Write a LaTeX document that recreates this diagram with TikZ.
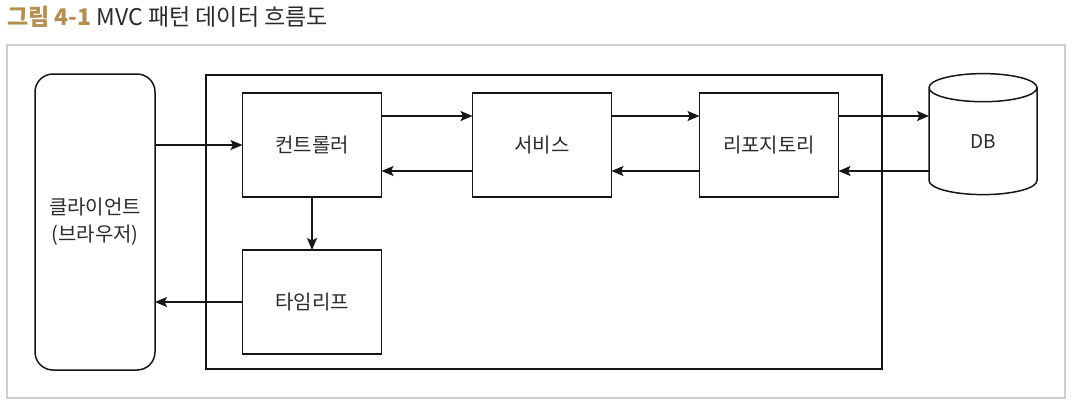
\documentclass[tikz,border=0pt]{standalone}
\usepackage{fontspec}
\setmainfont{Noto Sans CJK KR}
\usetikzlibrary{positioning,arrows.meta,shapes.geometric}
\definecolor{titlegold}{HTML}{B58E52}
\definecolor{framegray}{HTML}{CFCFCF}
\definecolor{ink}{HTML}{161616}
\definecolor{label}{HTML}{2B2B2B}

\tikzset{
  box/.style={draw=ink, line width=1.5pt, minimum width=139pt, minimum height=104pt,
    inner sep=0pt, outer sep=0pt, text=label, font=\fontsize{20}{27}\selectfont},
  arr/.style={draw=ink, line width=1.6pt, -{Stealth[length=12pt,width=10pt,inset=2.5pt]}}
}

\begin{document}
\begin{tikzpicture}[x=1pt,y=-1pt]
\useasboundingbox (0,0) rectangle (1080,408);
\draw[framegray, line width=1.5pt] (7,45) rectangle (1065,398);

\node[anchor=base west, inner sep=0pt, text=label] (title) at (7,25)
  {\fontsize{23}{25}\selectfont\textcolor{titlegold}{\bfseries 그림 4-1} MVC 패턴 데이터 흐름도};

\node[box, rounded corners=18pt, minimum width=120pt, minimum height=296pt, align=center] (client) at (95,222) {클라이언트\\(브라우저)};
\node[draw=ink, line width=1.5pt, minimum width=676pt, minimum height=294pt, inner sep=0pt] (app) at (544,222) {};

\node[box] (ctrl) at (312,145) {컨트롤러};
\node[box, right=91pt of ctrl] (svc) {서비스};
\node[box, right=88pt of svc] (repo) {리포지토리};
\node[box, below=53pt of ctrl] (tmpl) {타임리프};
\node[box, cylinder, shape border rotate=90, aspect=1.1, minimum width=108pt, minimum height=121pt,
  font=\fontsize{19}{21}\selectfont] (db) at (983,141.5) {DB};

\coordinate (cu) at ([yshift=29pt]ctrl.east); \coordinate (cd) at ([yshift=-26pt]ctrl.east);
\coordinate (su) at ([yshift=29pt]svc.east); \coordinate (sd) at ([yshift=-26pt]svc.east);
\coordinate (ru) at ([yshift=29pt]repo.east); \coordinate (rd) at ([yshift=-26pt]repo.east);

\draw[arr] (client.east |- ctrl.west) -- (ctrl.west);
\draw[arr] (cu) -- (cu -| svc.west);
\draw[arr] (su) -- (su -| repo.west);
\draw[arr] (ru) -- (ru -| db.west);
\draw[arr] (rd -| db.west) -- (rd);
\draw[arr] (sd -| repo.west) -- (sd);
\draw[arr] (cd -| svc.west) -- (cd);
\draw[arr] (ctrl.south) -- (tmpl.north);
\draw[arr] (tmpl.west) -- (client.east |- tmpl.west);
\end{tikzpicture}
\end{document}
